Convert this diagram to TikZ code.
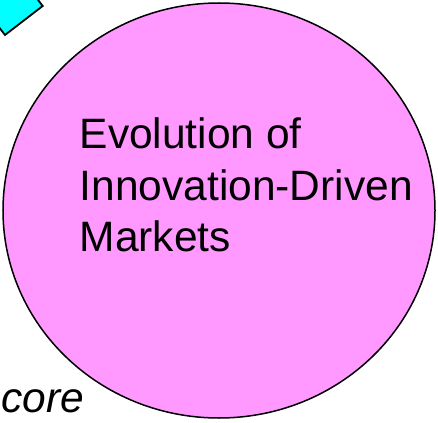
\documentclass[tikz,border=0pt]{standalone}
\usepackage{fontspec}
\setmainfont{Liberation Sans}
\usetikzlibrary{shapes.geometric,calc}
\definecolor{mktpink}{RGB}{255,153,255}
\definecolor{boxcyan}{RGB}{0,255,255}
\tikzset{
  bigtext/.style={font=\fontsize{42.5}{51}\selectfont, inner sep=0pt, anchor=base west},
  market/.style={ellipse, draw=black, line width=1.5pt, fill=mktpink, inner sep=0pt,
                 minimum width=432pt, minimum height=415pt},
  cyanbox/.style={draw=black, line width=1.8pt, fill=boxcyan, line join=miter}
}
\begin{document}
\begin{tikzpicture}[x=1pt, y=-1pt]
\useasboundingbox (0,0) rectangle (438,422);
\clip (0,0) rectangle (438,422);
% cyan rotated box, partly outside the picture
\coordinate (b1) at (5,35);
\coordinate (b2) at (42.7,6);
\draw[cyanbox] (b1) -- (b2) -- ($(b2)+(-36.5,-47.5)$) -- ($(b1)+(-36.5,-47.5)$) -- cycle;
% big ellipse
\node[market] (mkt) at (219,210.5) {};
\node[bigtext] (l1) at (79.5,149) {Evolution of};
\node[bigtext] (l2) at (79.5,200) {Innovation-Driven};
\node[bigtext] (l3) at (79.5,251) {Markets};
\node[bigtext, font=\fontsize{42.5}{51}\selectfont\itshape] (core) at (1,412) {core};
\end{tikzpicture}
\end{document}
